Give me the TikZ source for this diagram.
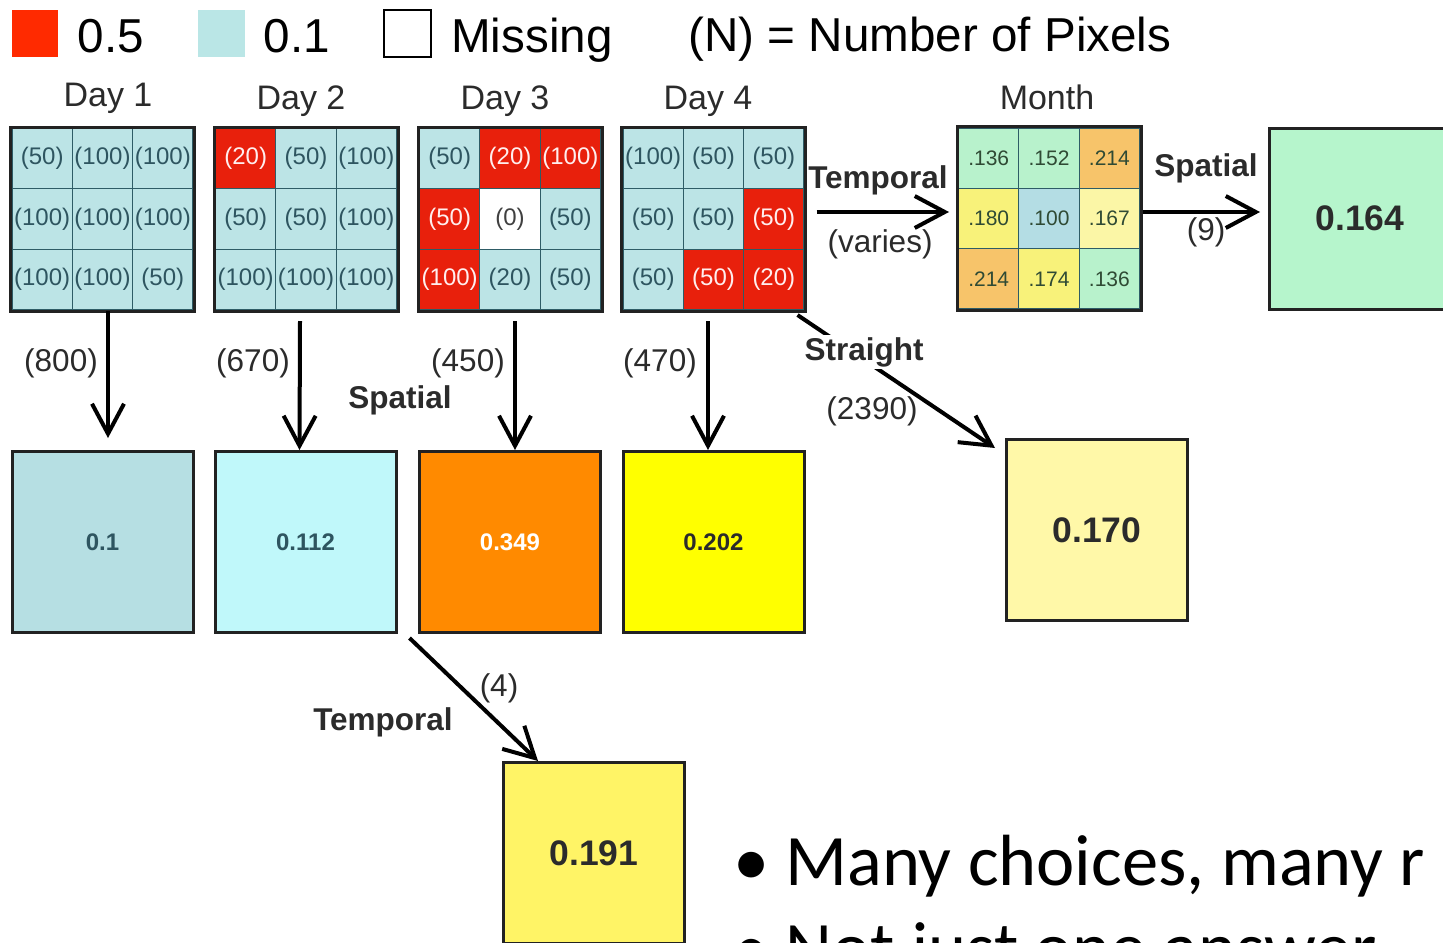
\documentclass[tikz,border=0pt]{standalone}
\usepackage{fontspec}
\setmainfont{Liberation Sans}
\newfontfamily\calib{Carlito}
\usetikzlibrary{arrows.meta,calc}
\definecolor{legred}{HTML}{FF2A00}
\definecolor{legblue}{HTML}{BAE6E6}
\definecolor{cblue}{HTML}{BCE4E6}
\definecolor{cred}{HTML}{E8200C}
\definecolor{cwhite}{HTML}{FFFFFF}
\definecolor{cline}{HTML}{2E5C66}
\definecolor{tb}{HTML}{2E5560}
\definecolor{tw}{HTML}{FFEEEE}
\definecolor{tg}{HTML}{404040}
\definecolor{mint}{HTML}{B8F2CC}
\definecolor{morange}{HTML}{F7C46A}
\definecolor{myellow}{HTML}{F8F27A}
\definecolor{mblue}{HTML}{B4DDE4}
\definecolor{mlyellow}{HTML}{FBF6A6}
\definecolor{tm}{HTML}{2F4A34}
\definecolor{ink}{HTML}{2B2B2B}
\definecolor{frame}{HTML}{222222}
\definecolor{bx1}{HTML}{B6DFE3}
\definecolor{bx2}{HTML}{C0F8FA}
\definecolor{bx3}{HTML}{FF8A00}
\definecolor{bx4}{HTML}{FFFF00}
\definecolor{bx164}{HTML}{B6F5CC}
\definecolor{bx170}{HTML}{FFF8A8}
\definecolor{bx191}{HTML}{FFF466}
\tikzset{
  arr/.style={line width=2pt, draw=black, -{Straight Barb[length=15pt,width=16pt]}},
  gridframe/.style={draw=frame, line width=1.5pt, minimum size=90.5pt, inner sep=0pt},
  cell/.style={draw=cline, line width=0.6pt, minimum size=30.17pt, inner sep=0pt, font=\fontsize{12}{12}\selectfont},
  mcell/.style={draw=cline, line width=0.6pt, minimum size=30.17pt, inner sep=0pt, font=\fontsize{10.5}{10.5}\selectfont, text=tm},
  bigbox/.style={draw=frame, line width=1.5pt, minimum size=90.5pt, inner sep=0pt},
  legtext/.style={anchor=base, font=\fontsize{23.8}{24}\selectfont},
  daytitle/.style={anchor=base, font=\fontsize{17}{17}\selectfont, text=ink},
  lab/.style={font=\fontsize{15.75}{16}\selectfont, text=ink},
  blab/.style={font=\bfseries\fontsize{15.75}{16}\selectfont, text=ink},
  smallval/.style={font=\bfseries\fontsize{12}{12}\selectfont},
  bigval/.style={font=\bfseries\fontsize{17.75}{18}\selectfont, text=ink},
  bullettext/.style={font=\calib\fontsize{36.25}{36}\selectfont, anchor=base west, inner sep=0pt},
}
\newcommand\gridcells[2]{%
  \foreach \i/\j/\f/\tc/\t in {#2}{%
    \node[cell, fill=\f, text=\tc] (#1c\i\j) at ($(#1.center)+({(\i-2)*60.33},{(\j-2)*60.33})$) {\t};
  }%
  \draw[draw=frame, line width=1.5pt] (#1.north west) rectangle (#1.south east);
}
\newcommand\monthcells[2]{%
  \foreach \i/\j/\f/\t in {#2}{%
    \node[mcell, fill=\f] (#1c\i\j) at ($(#1.center)+({(\i-2)*60.33},{(\j-2)*60.33})$) {\t};
  }%
  \draw[draw=frame, line width=1.5pt] (#1.north west) rectangle (#1.south east);
}
\begin{document}
\begin{tikzpicture}[x=0.5pt,y=-0.5pt]
\useasboundingbox (0,0) rectangle (1443,942);
\fill[white] (0,0) rectangle (1443,942);

% legend
\node[fill=legred, minimum width=23pt, minimum height=23.5pt, inner sep=0pt] (lr) at (35,33.5) {};
\node[legtext] (l05) at (111,52) {0.5};
\node[fill=legblue, minimum width=23.5pt, minimum height=23.5pt, inner sep=0pt] (lb) at (221.5,33.5) {};
\node[legtext] (l01) at (297,52) {0.1};
\node[draw=black, line width=1pt, minimum width=23.5pt, minimum height=23.5pt, inner sep=0pt] (lw) at (407.5,33.5) {};
\node[legtext] (lmiss) at (532,52) {Missing};
\node[legtext] (lnum) at (930,51) {(N) = Number of Pixels};

% titles
\node[daytitle] (t1) at (108,106) {Day 1};
\node[daytitle] (t2) at (301,109) {Day 2};
\node[daytitle] (t3) at (505,109) {Day 3};
\node[daytitle] (t4) at (708,109) {Day 4};
\node[daytitle] (tmo) at (1047,109) {Month};

% day grids
\node[gridframe] (d1) at (102.5,219) {};
\gridcells{d1}{1/1/cblue/tb/(50),2/1/cblue/tb/(100),3/1/cblue/tb/(100),
  1/2/cblue/tb/(100),2/2/cblue/tb/(100),3/2/cblue/tb/(100),
  1/3/cblue/tb/(100),2/3/cblue/tb/(100),3/3/cblue/tb/(50)}
\node[gridframe] (d2) at (306,219) {};
\gridcells{d2}{1/1/cred/tw/(20),2/1/cblue/tb/(50),3/1/cblue/tb/(100),
  1/2/cblue/tb/(50),2/2/cblue/tb/(50),3/2/cblue/tb/(100),
  1/3/cblue/tb/(100),2/3/cblue/tb/(100),3/3/cblue/tb/(100)}
\node[gridframe] (d3) at (510,219) {};
\gridcells{d3}{1/1/cblue/tb/(50),2/1/cred/tw/(20),3/1/cred/tw/(100),
  1/2/cred/tw/(50),2/2/cwhite/tg/(0),3/2/cblue/tb/(50),
  1/3/cred/tw/(100),2/3/cblue/tb/(20),3/3/cblue/tb/(50)}
\node[gridframe] (d4) at (713.5,219) {};
\gridcells{d4}{1/1/cblue/tb/(100),2/1/cblue/tb/(50),3/1/cblue/tb/(50),
  1/2/cblue/tb/(50),2/2/cblue/tb/(50),3/2/cred/tw/(50),
  1/3/cblue/tb/(50),2/3/cred/tw/(50),3/3/cred/tw/(20)}

% month grid
\node[gridframe] (mo) at (1049,218.5) {};
\monthcells{mo}{1/1/mint/.136,2/1/mint/.152,3/1/morange/.214,
  1/2/myellow/.180,2/2/mblue/.100,3/2/mlyellow/.167,
  1/3/morange/.214,2/3/myellow/.174,3/3/mint/.136}

% result boxes
\node[bigbox, fill=bx1, smallval, text=tb] (b1) at (102.5,542) {0.1};
\node[bigbox, fill=bx2, smallval, text=tb] (b2) at (305.5,542) {0.112};
\node[bigbox, fill=bx3, smallval, text=white] (b3) at (510,542) {0.349};
\node[bigbox, fill=bx4, smallval, text=ink] (b4) at (713.5,542) {0.202};
\node[bigbox, fill=bx164, bigval] (b164) at (1360,218.5) {0.164};
\node[bigbox, fill=bx170, bigval] (b170) at (1097,530) {0.170};
\node[bigbox, fill=bx191, bigval] (b191) at (594,853) {0.191};

% vertical arrows
\draw[arr] ([xshift=2.75pt]d1.south) -- ([xshift=2.75pt,yshift=6pt]b1.north);
\draw[arr] ([xshift=-3pt,yshift=-5pt]d2.south) -- ([xshift=-3pt]b2.north);
\draw[arr] ([xshift=2.5pt,yshift=-5pt]d3.south) -- ([xshift=2.5pt]b3.north);
\draw[arr] ([xshift=-2.75pt,yshift=-5pt]d4.south) -- ([xshift=-2.75pt]b4.north);
\node[lab] (n800) at (61,363) {(800)};
\node[lab] (n670) at (253,363) {(670)};
\node[lab] (n450) at (468,363) {(450)};
\node[lab] (n470) at (660,363) {(470)};
\node[blab] (sp1) at (400,400) {Spatial};

% temporal to month
\draw[arr] ([xshift=5.5pt,yshift=3.5pt]d4.east) -- ([xshift=-4pt,yshift=3.25pt]mo.west);
\node[blab] (tp1) at (878,180) {Temporal};
\node[lab] (nvar) at (880,244) {(varies)};

% spatial from month
\draw[arr] ([xshift=1pt,yshift=3.25pt]mo.east) -- ([xshift=-4pt,yshift=3.25pt]b164.west);
\node[blab] (sp2) at (1206,168) {Spatial};
\node[lab] (n9) at (1206,232) {(9)};

% straight
\draw[arr] ([xshift=-4pt,yshift=-2pt]d4.south east) -- ([xshift=-5pt,yshift=-5pt]b170.north west);
\node[blab, fill=white, inner sep=1pt] (st) at (864,352) {Straight};
\node[lab] (n2390) at (872,411) {(2390)};

% temporal bottom
\draw[arr] ([xshift=6pt,yshift=-2pt]b2.south east) -- ([xshift=18pt]b191.north west);
\node[lab] (n4) at (499,688) {(4)};
\node[blab] (tp2) at (383,722) {Temporal};

% bullet text
\node[bullettext] (bl1) at (733,885) {•};
\node[bullettext] (tx1) at (785,885) {Many choices, many r};
\node[bullettext] (bl2) at (733,972) {•};
\node[bullettext] (tx2) at (785,972) {Not just one answer};
\end{tikzpicture}
\end{document}
